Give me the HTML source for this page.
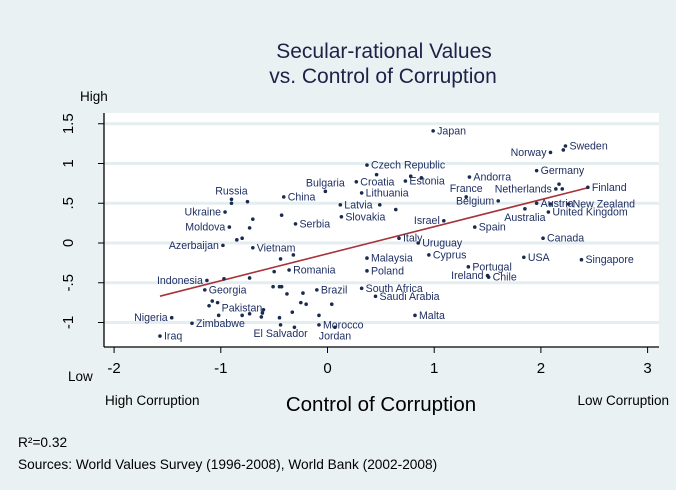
<!DOCTYPE html>
<html><head><meta charset="utf-8">
<style>
html,body{margin:0;padding:0;background:#eaf1f3;}
svg{display:block;font-family:"Liberation Sans",Arial,sans-serif;}
</style></head>
<body>
<svg id="chart" width="676" height="490" viewBox="0 0 676 490" xmlns="http://www.w3.org/2000/svg">
<rect width="676" height="490" fill="#eaf1f3"/>
<g fill="#1c2347" font-size="21" text-anchor="middle">
<text x="384" y="58">Secular-rational Values</text>
<text x="383" y="83">vs. Control of Corruption</text>
</g>
<rect x="104" y="113" width="555" height="234" fill="#ffffff"/>
<g id="grid"></g>
<g id="axes"></g>
<g id="marks"></g>
<text x="80" y="101" font-size="13.5" fill="#000">High</text>
<text x="68" y="381" font-size="13.5" fill="#000">Low</text>
<text x="105" y="405" font-size="13.5" fill="#000">High Corruption</text>
<text x="381" y="411" font-size="20.5" fill="#000" text-anchor="middle">Control of Corruption</text>
<text x="669" y="405" font-size="13.5" fill="#000" text-anchor="end">Low Corruption</text>
<text x="18" y="447" font-size="13.7" fill="#000">R²=0.32</text>
<text x="18" y="469" font-size="13.7" fill="#000">Sources: World Values Survey (1996-2008), World Bank (2002-2008)</text>
</svg>
<script>
const xTicks = [-2, -1, 0, 1, 2, 3];
const yTicks = [-1, -0.5, 0, 0.5, 1, 1.5];
const yTickLabels = ["-1", "-.5", "0", ".5", "1", "1.5"];
const fitSlope = 0.34;
const fitIntercept = -0.135;
const fitRange = [-1.57, 2.44];
const names = ["Japan","Sweden","","Norway","Czech Republic","","Croatia","Estonia","","","Lithuania","Andorra","Germany","Netherlands","","","Finland","France","Belgium","Austria","","New Zealand","United Kingdom","Australia","Latvia","","","Slovakia","Israel","Spain","Italy","Uruguay","Canada","Malaysia","Cyprus","USA","Singapore","Poland","Portugal","Chile","Ireland","South Africa","Saudi Arabia","Malta","Brazil","Bulgaria","China","Serbia","Russia","","","Ukraine","Moldova","","","","","","Azerbaijan","Vietnam","","","","Romania","Indonesia","","","Georgia","","","","","","","","","","","","Pakistan","","","","","","","","El Salvador","","","Morocco","Jordan","Nigeria","Zimbabwe","Iraq"];
const corruption = [0.99,2.23,2.21,2.09,0.37,0.46,0.27,0.73,0.78,0.88,0.32,1.33,1.96,2.14,2.17,2.2,2.44,1.30,1.60,1.96,2.09,2.26,2.07,1.85,0.12,0.49,0.64,0.13,1.09,1.38,0.67,0.85,2.02,0.37,0.95,1.84,2.38,0.37,1.32,1.51,1.50,0.32,0.45,0.82,-0.10,-0.02,-0.41,-0.30,-0.90,-0.90,-0.75,-0.96,-0.92,-0.70,-0.73,-0.43,-0.85,-0.80,-0.98,-0.70,-0.44,-0.32,-0.50,-0.36,-1.13,-0.97,-0.73,-1.15,-0.51,-0.45,-0.43,-0.38,-0.23,-0.25,-0.20,0.04,-1.08,-1.03,-1.11,-1.02,-0.80,-0.73,-0.62,-0.61,-0.60,-0.33,-0.45,-0.44,-0.31,-0.08,-0.08,0.07,-1.46,-1.27,-1.57];
const secular = [1.41,1.22,1.17,1.14,0.98,0.86,0.77,0.78,0.84,0.82,0.63,0.83,0.91,0.68,0.74,0.68,0.70,0.58,0.53,0.50,0.49,0.49,0.39,0.43,0.48,0.48,0.42,0.33,0.28,0.20,0.06,0.00,0.06,-0.19,-0.15,-0.18,-0.21,-0.35,-0.30,-0.43,-0.41,-0.57,-0.67,-0.91,-0.59,0.65,0.58,0.24,0.55,0.50,0.52,0.39,0.20,0.30,0.19,0.35,0.04,0.06,-0.03,-0.06,-0.20,-0.15,-0.36,-0.34,-0.47,-0.45,-0.44,-0.59,-0.55,-0.55,-0.55,-0.64,-0.63,-0.75,-0.77,-0.77,-0.73,-0.75,-0.79,-0.91,-0.91,-0.89,-0.93,-0.88,-0.84,-0.87,-0.94,-1.03,-1.06,-0.91,-1.03,-1.06,-0.94,-1.01,-1.17];
const labelSide = ["r","r","","l","r","","r","r","","","r","r","r","l","","","r","a","l","r","","r","r","b","r","","","r","l","r","r","r","r","r","r","r","r","r","r","r","l","r","r","r","r","a","r","r","a","","","l","l","","","","","","l","r","","","","r","l","","","r","","","","","","","","","","","","ar","","","","","","","","b","","","r","b","l","r","r"];

const NS = "http://www.w3.org/2000/svg";
function xPos(v){ return 327.5 + v * 106.7; }
function yPos(v){ return 243 - v * 79.5; }
function mk(tag, attrs, parent){
  const e = document.createElementNS(NS, tag);
  for (const k in attrs) e.setAttribute(k, attrs[k]);
  parent.appendChild(e);
  return e;
}
const grid = document.getElementById('grid');
const axes = document.getElementById('axes');
const marks = document.getElementById('marks');

yTicks.forEach((t, i) => {
  const y = yPos(t);
  const g = mk('line', {x1:104, x2:659, y1:y, y2:y, stroke:'#e4edf0', 'stroke-width':3}, grid);
  
  
  const tk = mk('line', {x1:98, x2:104, y1:y, y2:y, stroke:'#000', 'stroke-width':1}, axes);
  
  
  const lb = mk('text', {x:0, y:0, 'font-size':15, fill:'#000', 'text-anchor':'middle', transform:'translate(73,' + y + ') rotate(-90)'}, axes);
  lb.textContent = yTickLabels[i];
  
  
});
xTicks.forEach(t => {
  const x = xPos(t);
  const tk = mk('line', {x1:x, x2:x, y1:347, y2:353, stroke:'#000', 'stroke-width':1}, axes);
  
  
  const lb = mk('text', {x:x, y:373, 'font-size':15, fill:'#000', 'text-anchor':'middle'}, axes);
  lb.textContent = String(t);
  
  
});
const ya = mk('line', {x1:104, x2:104, y1:113, y2:347, stroke:'#000', 'stroke-width':1.3}, axes);


const xa = mk('line', {x1:104, x2:659, y1:347, y2:347, stroke:'#000', 'stroke-width':1.3}, axes);



const fit = mk('line', {x1:xPos(fitRange[0]), y1:yPos(fitSlope*fitRange[0]+fitIntercept), x2:xPos(fitRange[1]), y2:yPos(fitSlope*fitRange[1]+fitIntercept), stroke:'#a8323a', 'stroke-width':1.6}, marks);



names.forEach((n, i) => {
  const x = xPos(corruption[i]), y = yPos(secular[i]);
  const c = mk('circle', {cx:x, cy:y, r:1.8, fill:'#1b2b4f'}, marks);
  
  
  if (!n) return;
  const s = labelSide[i];
  let a = {x:x+4, y:y+3.5, anchor:'start'};
  if (s === 'l') a = {x:x-4, y:y+3.5, anchor:'end'};
  else if (s === 'a') a = {x:x, y:y-5, anchor:'middle'};
  else if (s === 'b') a = {x:x, y:y+12, anchor:'middle'};
  else if (s === 'ar') a = {x:x+3, y:y-4, anchor:'start'};
  const t = mk('text', {x:a.x, y:a.y, 'font-size':10.6, fill:'#1f2f63', 'text-anchor':a.anchor}, marks);
  t.textContent = n;
  
  
});
</script>
</body></html>
